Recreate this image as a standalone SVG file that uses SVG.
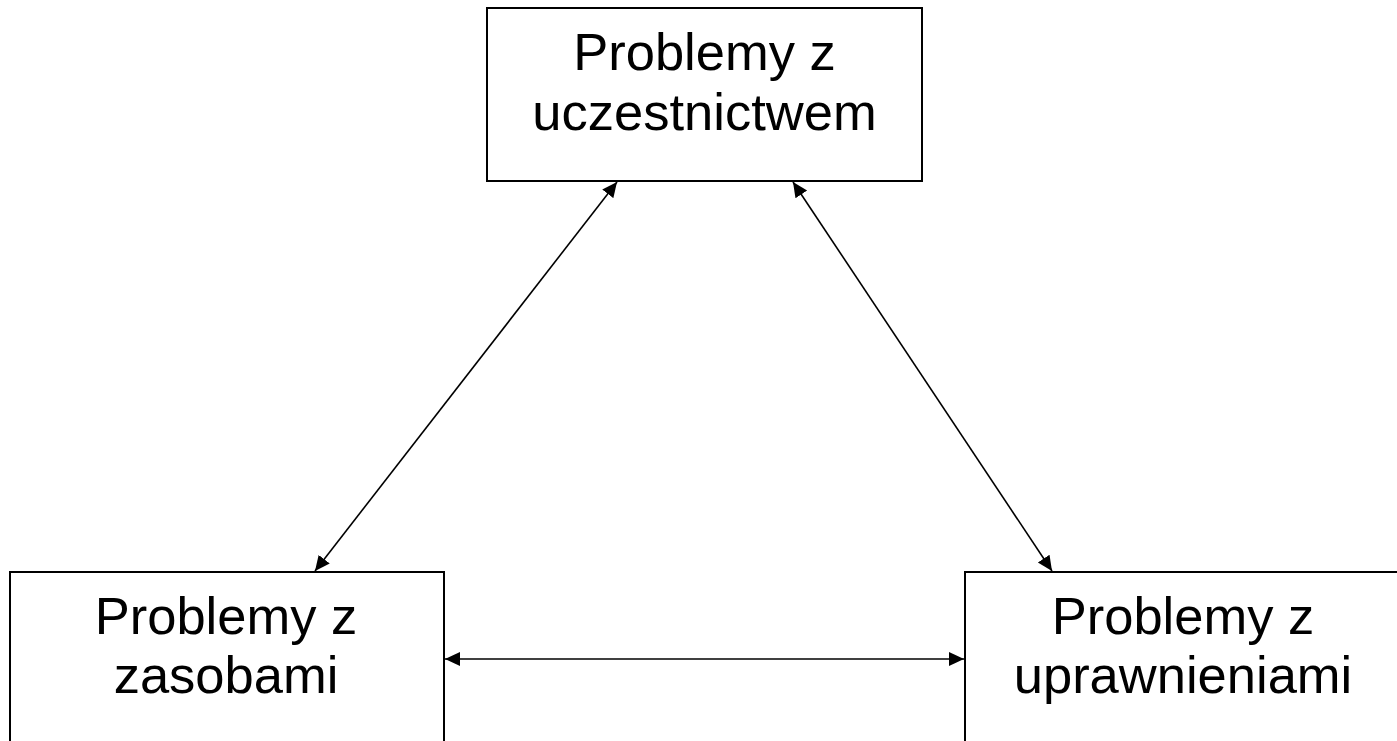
<svg xmlns="http://www.w3.org/2000/svg" width="1397" height="741" viewBox="0 0 1397 741">
<style>
.box{fill:#fff;stroke:#000;stroke-width:2}
.lbl{font-family:"Liberation Sans",Arial,sans-serif;font-size:52.5px;fill:#000;text-anchor:middle}
.con{stroke:#000;stroke-width:1.6;fill:none;marker-start:url(#ah);marker-end:url(#ah)}
</style>
<defs>
<marker id="ah" markerUnits="userSpaceOnUse" markerWidth="16" markerHeight="16" viewBox="0 0 16 16" refX="15" refY="8" orient="auto-start-reverse">
<path d="M0,1 L15,8 L0,15 Z" fill="#000"/>
</marker>
</defs>
<rect width="1397" height="741" fill="#fff"/>
<g id="connectors">
<line class="con" x1="617" y1="182" x2="315" y2="571"/>
<line class="con" x1="793" y1="182" x2="1052" y2="571"/>
<line class="con" x1="445" y1="659" x2="964" y2="659"/>
</g>
<g id="n-uczestnictwo">
<rect class="box" x="487" y="8" width="435" height="173"/>
<text class="lbl" x="704.5" y="70">Problemy z</text>
<text class="lbl" x="704.5" y="130">uczestnictwem</text>
</g>
<g id="n-zasoby">
<rect class="box" x="10" y="572" width="434" height="200"/>
<text class="lbl" x="226" y="634">Problemy z</text>
<text class="lbl" x="226" y="693">zasobami</text>
</g>
<g id="n-uprawnienia">
<rect class="box" x="965" y="572" width="434" height="200"/>
<text class="lbl" x="1183" y="634">Problemy z</text>
<text class="lbl" x="1183" y="693">uprawnieniami</text>
</g>
</svg>
